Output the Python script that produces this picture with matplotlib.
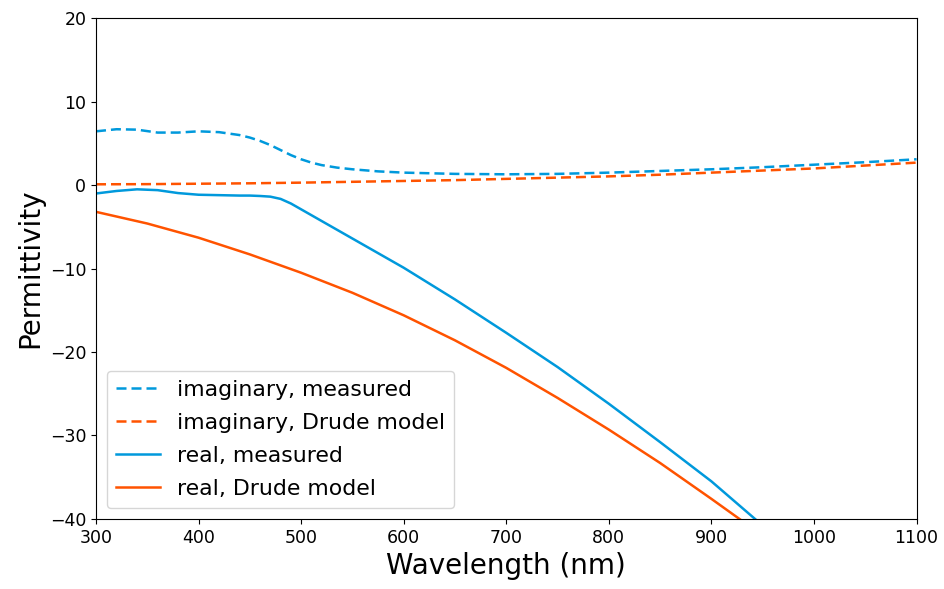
import numpy as np
import matplotlib
matplotlib.use('Agg')
import matplotlib.pyplot as plt

# wavelength (nm) and permittivity values
wl_meas = np.array([300, 320, 340, 360, 380, 400, 420, 440, 450, 460, 470, 480, 490,
                    500, 510, 520, 535, 550, 575, 600, 650, 700, 750, 800, 850, 900,
                    950, 1000, 1050, 1100])
imag_meas = np.array([6.45, 6.7, 6.65, 6.3, 6.3, 6.45, 6.35, 6.0, 5.7, 5.3, 4.8, 4.2, 3.6,
                      3.1, 2.7, 2.4, 2.1, 1.9, 1.65, 1.5, 1.35, 1.3, 1.35, 1.5, 1.7, 1.9,
                      2.15, 2.45, 2.75, 3.1])
real_meas = np.array([-1.0, -0.7, -0.5, -0.6, -0.95, -1.15, -1.2, -1.25, -1.25, -1.3, -1.38,
                      -1.65, -2.2, -2.9, -3.6, -4.3, -5.35, -6.4, -8.15, -9.9, -13.7, -17.7,
                      -21.8, -26.2, -30.8, -35.5, -40.8, -46.0, -51.5, -57.0])

wl_drude = np.array([300, 350, 400, 450, 500, 550, 600, 650, 700, 750, 800, 850,
                     900, 950, 1000, 1050, 1100])
imag_drude = np.array([0.1, 0.12, 0.17, 0.22, 0.3, 0.4, 0.5, 0.6, 0.75, 0.9, 1.05, 1.25,
                       1.5, 1.75, 2.0, 2.35, 2.7])
real_drude = np.array([-3.2, -4.6, -6.3, -8.3, -10.5, -12.9, -15.6, -18.6, -21.9, -25.5,
                       -29.3, -33.3, -37.6, -42.0, -46.8, -51.8, -57.0])

blue = '#0099dc'
orange = '#ff5300'
lw = 1.8
dash = (4, 2)

fig = plt.figure(figsize=(9.45, 5.89), dpi=100)
ax = fig.add_axes([0.1016, 0.119, 0.8683, 0.850])

ax.plot(wl_meas, imag_meas, '--', color=blue, lw=lw, dashes=dash, label='imaginary, measured')
ax.plot(wl_drude, imag_drude, '--', color=orange, lw=lw, dashes=dash, label='imaginary, Drude model')
ax.plot(wl_meas, real_meas, '-', color=blue, lw=lw, label='real, measured')
ax.plot(wl_drude, real_drude, '-', color=orange, lw=lw, label='real, Drude model')

ax.set_xlim(300, 1100)
ax.set_ylim(-40, 20)
ax.set_xticks(np.arange(300, 1101, 100))
ax.set_yticks(np.arange(-40, 21, 10))
ax.tick_params(labelsize=12.5)
ax.set_xlabel('Wavelength (nm)', fontsize=20)
ax.set_ylabel('Permittivity', fontsize=20)
ax.legend(loc='lower left', fontsize=15.8, handlelength=2.0, labelspacing=0.6)

fig.savefig('out.png', dpi=100)
